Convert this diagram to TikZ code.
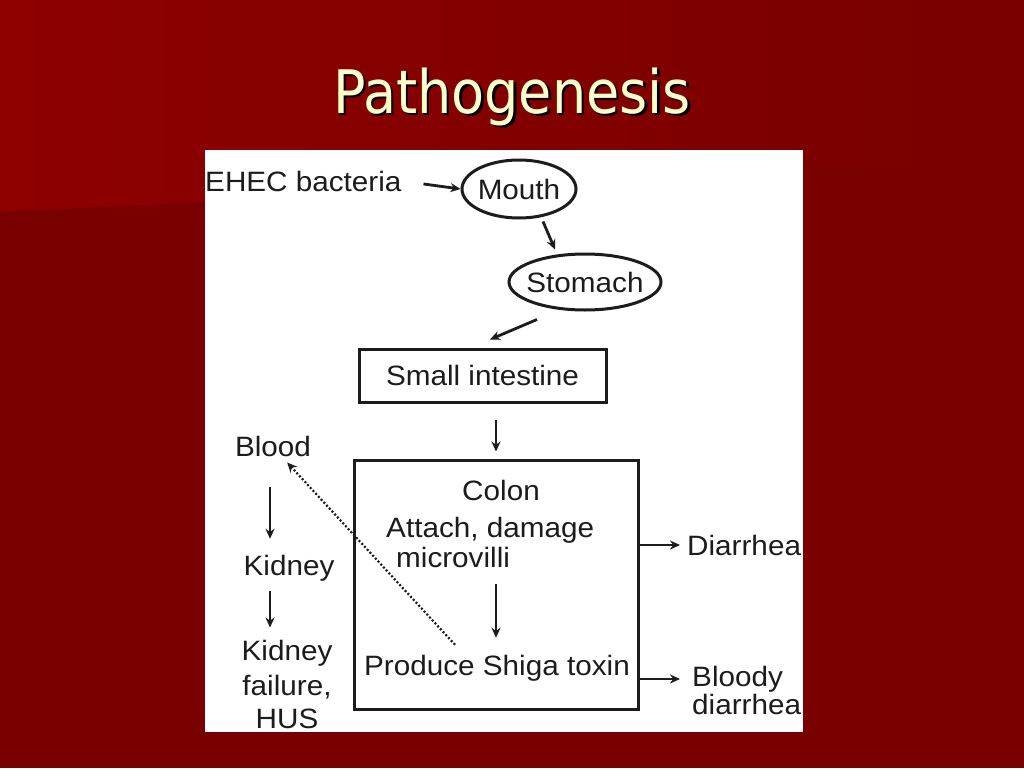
\documentclass[tikz,border=0pt]{standalone}
\usepackage{fontspec}
\setmainfont{Liberation Sans}
\newfontfamily\dfont[FakeStretch=1.06]{Liberation Sans}
\newfontfamily\tfont{DejaVu Sans Condensed}
\usetikzlibrary{shapes.geometric,arrows.meta,calc}
\definecolor{bgdark}{HTML}{780000}
\definecolor{bglight}{HTML}{8E0000}
\definecolor{titlecol}{HTML}{FFFFCC}
\definecolor{ink}{HTML}{1C1C1C}
\tikzset{
  lbl/.style={inner sep=0pt, text=ink, font=\dfont\fontsize{28}{31}\selectfont},
  oval/.style={ellipse, draw=ink, line width=3pt, inner sep=0pt, lbl},
  boxed/.style={rectangle, draw=ink, line width=3pt, inner sep=0pt, lbl},
  arr/.style={draw=ink, line width=2.8pt, -{Stealth[length=10pt,width=9pt]}},
  dotarr/.style={draw=ink, line width=2.2pt, dash pattern=on 2pt off 2pt, -{Stealth[length=10pt,width=9pt]}},
}
\begin{document}
\begin{tikzpicture}[x=1pt,y=-1pt]
\useasboundingbox (0,0) rectangle (1024,768);
% background
\fill[bgdark] (0,0) rectangle (1024,768);
\shade[left color=bglight, right color=bgdark] (0,0) -- (1024,0) -- (1024,162) -- (0,212) -- cycle;
% title (with its shadow in the same text)
\node[font=\tfont\fontsize{60}{66}\selectfont, inner sep=0pt] (title) at (512,98)
  {\rlap{\kern2.5pt\raisebox{-2.5pt}{\color{black}Pathogenesis}}\color{titlecol}Pathogenesis};
% white panel
\fill[white] (205,150) rectangle (803,732);
\begin{scope}
\clip (205,150) rectangle (803,732);
\node[lbl, anchor=west] (ehec) at (205,181) {EHEC bacteria};
\node[oval, minimum width=114pt, minimum height=58pt] (mouth) at (519,189) {\makebox[40pt]{Mouth}};
\node[oval, minimum width=152pt, minimum height=56pt] (stomach) at (585,282) {\makebox[60pt]{Stomach}};
\node[boxed, minimum width=247pt, minimum height=53pt] (small) at (482.5,375.5) {Small intestine};
\node[boxed, minimum width=284pt, minimum height=249pt] (colon) at (496,584.5) {};
\node[lbl] (colonlbl) at (501,490) {Colon};
\node[lbl, anchor=west] (attach) at (386,530) {Attach, damage};
\node[lbl, anchor=west] (micro) at (396,557) {microvilli};
\node[lbl] (shiga) at (497,668) {Produce Shiga toxin};
\node[lbl, anchor=west] (diarrhea) at (687,545) {Diarrhea};
\node[lbl, anchor=west, align=left] (bloody) at (692,690) {Bloody\\[-3pt]diarrhea};
\node[lbl] (blood) at (273,446) {Blood};
\node[lbl] (kidney) at (289,568) {Kidney};
\node[lbl, align=center] (failure) at (287,684) {Kidney\\[4pt]failure,\\[2pt]HUS};
% connectors
\draw[arr, shorten <=22pt] (ehec.east) -- (mouth.west);
\draw[arr] ($(mouth.south)+(24,2)$) -- ($(stomach.north)+(-30,-3)$);
\draw[arr] ($(stomach.south)+(-48,8)$) -- ($(small.north)+(7.5,-8)$);
\draw[arr, shorten <=16pt, shorten >=7pt] (small.south -| colon.north) -- (colon.north);
\draw[arr] ($(micro.south -| colon.north)+(0,17)$) -- ($(shiga.north -| colon.north)+(0,-17)$);
\draw[arr, shorten >=7pt] (colon.east |- diarrhea.west) -- (diarrhea.west);
\draw[arr, shorten >=12pt] ($(colon.east)+(0,94.5)$) -- ($(bloody.west)+(0,-11)$);
\draw[arr, shorten <=31pt, shorten >=16pt] ($(blood.south)+(-3,0)$) -- ($(blood.south |- kidney.north)+(-3,0)$);
\draw[arr, shorten <=10pt, shorten >=12pt] ($(kidney.south -| blood.south)+(-3,0)$) -- ($(failure.north -| blood.south)+(-3,0)$);
\draw[dotarr] ($(shiga.north)+(-42,-10)$) -- ($(blood.south east)+(-24,6)$);
\end{scope}
\end{tikzpicture}
\end{document}
